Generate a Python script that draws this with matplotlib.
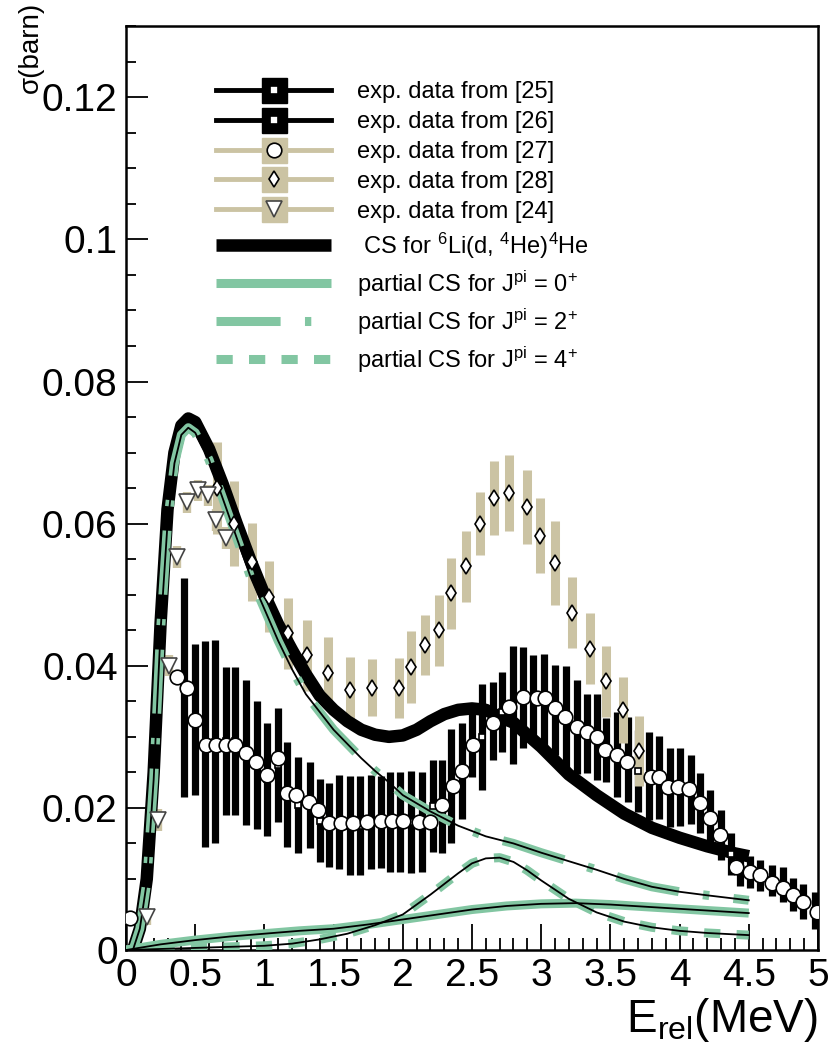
import numpy as np
import matplotlib
matplotlib.use('Agg')
import matplotlib.pyplot as plt
from matplotlib.lines import Line2D

plt.rcParams['font.family'] = ['Liberation Sans', 'DejaVu Sans']
plt.rcParams['mathtext.default'] = 'regular'

tan = '#cbc3a3'
green = '#82c6a2'

# ---- theory curves ----
x_cs = [0.05, 0.1, 0.15, 0.2, 0.25, 0.3, 0.35, 0.4, 0.45, 0.5, 0.6, 0.7, 0.8, 0.9, 1.0, 1.1, 1.2,
        1.3, 1.4, 1.5, 1.6, 1.7, 1.8, 1.9, 2.0, 2.1, 2.2, 2.3, 2.4, 2.5, 2.6, 2.7, 2.8, 2.9, 3.0,
        3.2, 3.4, 3.6, 3.8, 4.0, 4.2, 4.4, 4.5]
cs_tot = [0.0, 0.003, 0.010, 0.025, 0.046, 0.062, 0.070, 0.0738, 0.0748, 0.0743, 0.0705, 0.0655,
          0.060, 0.0548, 0.050, 0.0458, 0.0422, 0.0388, 0.0358, 0.0338, 0.0322, 0.031, 0.0303,
          0.030, 0.0302, 0.031, 0.0322, 0.0332, 0.0338, 0.034, 0.0338, 0.0328, 0.032, 0.0303,
          0.0286, 0.0247, 0.0218, 0.0192, 0.0172, 0.0158, 0.0146, 0.0136, 0.0132]

x_j2 = [0.05, 0.1, 0.15, 0.2, 0.25, 0.3, 0.35, 0.4, 0.45, 0.5, 0.6, 0.7, 0.8, 0.9, 1.0, 1.1, 1.2,
        1.3, 1.4, 1.5, 1.6, 1.7, 1.8, 1.9, 2.0, 2.2, 2.4, 2.6, 2.8, 3.0, 3.2, 3.4, 3.6, 3.8, 4.0,
        4.2, 4.5]
cs_j2 = [0.0, 0.003, 0.0095, 0.024, 0.045, 0.060, 0.0685, 0.0725, 0.0735, 0.0728, 0.069, 0.0635,
         0.058, 0.0525, 0.048, 0.0435, 0.0395, 0.036, 0.0335, 0.031, 0.029, 0.027, 0.0252,
         0.0236, 0.0218, 0.0195, 0.0175, 0.016, 0.015, 0.0137, 0.0125, 0.0113, 0.0100, 0.0089,
         0.0082, 0.0077, 0.0070]

x_j4 = [0.0, 0.5, 1.0, 1.2, 1.4, 1.6, 1.8, 2.0, 2.2, 2.4, 2.5, 2.6, 2.7, 2.8, 2.9, 3.0, 3.2, 3.4,
        3.6, 3.8, 4.0, 4.2, 4.5]
cs_j4 = [0.0, 0.0003, 0.0006, 0.0009, 0.0015, 0.0023, 0.0035, 0.005, 0.0078, 0.0108, 0.0122,
         0.0129, 0.0130, 0.0124, 0.0112, 0.0098, 0.0072, 0.0053, 0.004, 0.0032, 0.0027, 0.0024,
         0.0021]

x_j0 = [0.0, 0.25, 0.5, 0.75, 1.0, 1.25, 1.5, 1.75, 2.0, 2.25, 2.5, 2.75, 3.0, 3.25, 3.5, 3.75,
        4.0, 4.25, 4.5]
cs_j0 = [0.0, 0.0008, 0.0014, 0.0019, 0.0023, 0.0027, 0.003, 0.0036, 0.0043, 0.005, 0.0057,
         0.0062, 0.0065, 0.0066, 0.0064, 0.0061, 0.0058, 0.0055, 0.0052]

# ---- experimental data ----
x25 = [0.42, 0.50, 0.57, 0.645, 0.725, 0.79, 0.87, 0.95, 1.02, 1.10, 1.16, 1.24, 1.33, 1.40,
       1.47, 1.54, 1.62, 1.69, 1.77, 1.84, 1.91, 1.98, 2.06, 2.14, 2.22]
y25 = [0.0369, 0.0324, 0.029, 0.0293, 0.0294, 0.0294, 0.0278, 0.026, 0.024, 0.026, 0.0219,
       0.0204, 0.0204, 0.0182, 0.0176, 0.018, 0.0175, 0.0175, 0.018, 0.018, 0.018, 0.018,
       0.018, 0.018, 0.0203]
e25 = [0.0154, 0.0106, 0.0145, 0.0143, 0.0104, 0.0104, 0.0102, 0.009, 0.008, 0.008, 0.0074,
       0.0068, 0.006, 0.0058, 0.0059, 0.0066, 0.007, 0.007, 0.0066, 0.0065, 0.007, 0.007,
       0.0072, 0.007, 0.0065]

x26 = [2.28, 2.35, 2.43, 2.50, 2.57, 2.65, 2.72, 2.80, 2.87, 2.94, 3.02, 3.10, 3.18, 3.26, 3.33,
       3.40, 3.47, 3.55, 3.63, 3.70, 3.78, 3.85, 3.93, 4.00, 4.08, 4.15, 4.22, 4.30, 4.37, 4.44,
       4.51, 4.58, 4.67, 4.75, 4.82, 4.89, 4.98]
y26 = [0.0202, 0.0231, 0.0252, 0.0288, 0.030, 0.0322, 0.0335, 0.0345, 0.0356, 0.0355, 0.0352,
       0.0338, 0.0328, 0.0314, 0.0305, 0.030, 0.0281, 0.0275, 0.0268, 0.0252, 0.0245, 0.0243,
       0.0229, 0.0229, 0.0226, 0.0207, 0.0188, 0.0162, 0.0135, 0.0115, 0.011, 0.0105, 0.0098,
       0.0092, 0.0078, 0.0068, 0.0055]
e26 = [0.0066, 0.008, 0.0068, 0.0045, 0.0075, 0.0055, 0.0056, 0.0083, 0.0071, 0.006, 0.0065,
       0.0063, 0.0072, 0.0066, 0.0056, 0.0061, 0.0045, 0.006, 0.006, 0.0058, 0.0062, 0.0058,
       0.0056, 0.0055, 0.0048, 0.0042, 0.0037, 0.0035, 0.003, 0.0025, 0.0022, 0.0022, 0.0022,
       0.0025, 0.0023, 0.0025, 0.0026]

x27 = [0.03, 0.37, 0.44, 0.50, 0.58, 0.65, 0.72, 0.79, 0.87, 0.94, 1.02, 1.10, 1.16, 1.23, 1.32,
       1.39, 1.47, 1.55, 1.64, 1.74, 1.84, 1.92, 2.00, 2.12, 2.20, 2.28, 2.36, 2.43, 2.51, 2.65,
       2.77, 2.87, 2.97, 3.03, 3.10, 3.17, 3.26, 3.33, 3.40, 3.46, 3.55, 3.62, 3.79, 3.85, 3.92,
       3.99, 4.07, 4.15, 4.22, 4.29, 4.41, 4.51, 4.58, 4.67, 4.75, 4.82, 4.89, 4.99]
y27 = [0.0045, 0.0384, 0.0369, 0.0324, 0.0289, 0.0289, 0.0289, 0.0289, 0.0277, 0.0265, 0.0246,
       0.027, 0.0221, 0.0218, 0.0208, 0.0197, 0.0179, 0.0179, 0.0179, 0.018, 0.0182, 0.0182,
       0.0182, 0.018, 0.018, 0.0204, 0.0231, 0.0252, 0.0288, 0.0319, 0.0342, 0.0356, 0.0354,
       0.0354, 0.034, 0.0328, 0.0314, 0.0307, 0.030, 0.0281, 0.0274, 0.0265, 0.0243, 0.0243,
       0.0229, 0.0229, 0.0227, 0.0207, 0.0186, 0.0162, 0.0117, 0.011, 0.0105, 0.0094, 0.0087,
       0.0077, 0.0068, 0.0053]
e27 = [0.0008] * len(x27)

x28 = [0.66, 0.78, 0.91, 1.03, 1.17, 1.31, 1.46, 1.62, 1.78, 1.97, 2.06, 2.16, 2.26, 2.35, 2.46,
       2.56, 2.66, 2.77, 2.90, 2.99, 3.10, 3.22, 3.35, 3.47, 3.59, 3.71]
y28 = [0.065, 0.060, 0.0546, 0.0497, 0.0446, 0.0415, 0.039, 0.0366, 0.0369, 0.0369, 0.0398,
       0.0429, 0.045, 0.0502, 0.054, 0.060, 0.0636, 0.0643, 0.0623, 0.0583, 0.0545, 0.0475,
       0.0424, 0.0378, 0.0338, 0.028]
e28 = [0.0065, 0.006, 0.0055, 0.005, 0.005, 0.005, 0.005, 0.0046, 0.004, 0.0042, 0.0051,
       0.0042, 0.005, 0.005, 0.005, 0.0044, 0.0052, 0.0053, 0.0052, 0.0053, 0.0059, 0.005,
       0.005, 0.005, 0.0046, 0.0049]

x24 = [0.15, 0.23, 0.31, 0.37, 0.44, 0.52, 0.59, 0.65, 0.72]
y24 = [0.0047, 0.0183, 0.040, 0.0553, 0.063, 0.0647, 0.064, 0.0605, 0.058]
e24 = [0.0012, 0.0015, 0.0015, 0.0015, 0.0015, 0.0015, 0.0015, 0.0015, 0.0015]

fig = plt.figure(figsize=(8.3, 10.5), dpi=100)
ax = fig.add_axes([0.1518, 0.0952, 0.8337, 0.8798])


def errset(x, y, e, col, marker, ms, bar_w, mfc='white', mec='black'):
    c = ax.errorbar(x, y, yerr=e, fmt=marker, ms=ms, mfc=mfc, mec=mec, mew=1.2,
                    ecolor=col, elinewidth=bar_w, capsize=0)
    c[0].set_zorder(7)
    for b in c[2]:
        b.set_zorder(2)
    return c


errset(x25, y25, e25, 'black', 's', 4, 5.2)
errset(x26, y26, e26, 'black', 's', 4, 5.2)
errset(x27, y27, e27, tan, 'o', 10.5, 6)
errset(x28, y28, e28, tan, 'd', 8, 6.5)
errset(x24, y24, e24, tan, 'v', 11, 6, mec='#444444')

l_tot, = ax.plot(x_cs, cs_tot, color='black', lw=9, zorder=3, solid_capstyle='butt')
l0, = ax.plot(x_j0, cs_j0, color=green, lw=6.5, zorder=4, solid_capstyle='butt')
l2, = ax.plot(x_j2, cs_j2, color=green, lw=6.5, zorder=4, dashes=(7.1, 2.7, 0.7, 2.7))
l4, = ax.plot(x_j4, cs_j4, color=green, lw=6.5, zorder=4, dashes=(1.8, 1.8))
for xx, yy in [(x_j0, cs_j0), (x_j2, cs_j2), (x_j4, cs_j4)]:
    ax.plot(xx, yy, color='black', lw=1.3, zorder=5)

ax.set_xlim(0, 5)
ax.set_ylim(0, 0.13)
ax.set_xticks(np.arange(0, 5.01, 0.5))
ax.set_xticklabels(['0', '0.5', '1', '1.5', '2', '2.5', '3', '3.5', '4', '4.5', '5'])
ax.set_xticks(np.arange(0, 5.01, 0.1), minor=True)
ax.set_yticks(np.arange(0, 0.121, 0.02))
ax.set_yticklabels(['0', '0.02', '0.04', '0.06', '0.08', '0.1', '0.12'])
ax.set_yticks(np.arange(0, 0.131, 0.005), minor=True)
ax.tick_params(axis='x', which='major', direction='in', length=19, width=1.3, labelsize=28, pad=6)
ax.tick_params(axis='x', which='minor', direction='in', length=9, width=1.3)
ax.tick_params(axis='y', which='major', direction='in', length=16, width=1.3, labelsize=28, pad=6)
ax.tick_params(axis='y', which='minor', direction='in', length=7, width=1.3)
for s in ax.spines.values():
    s.set_linewidth(1.8)

ax.set_ylabel('σ(barn)', fontsize=20, ha='right')
ax.yaxis.set_label_coords(-0.118, 1.027)
ax.set_xlabel('E$_{rel}$(MeV)', fontsize=33, loc='right', labelpad=1)


# legend proxies: horizontal line + wide error block + marker
def exp_handle(col, marker, ms, mec='black'):
    line = Line2D([], [], color=col, lw=3.5)
    block = Line2D([], [], ls='none', marker='s', ms=18, mfc=col, mec=col)
    mark = Line2D([], [], ls='none', marker=marker, ms=ms, mfc='white', mec=mec, mew=1.2)
    return (line, block, mark)


handles = [exp_handle('black', 's', 6), exp_handle('black', 's', 6),
           exp_handle(tan, 'o', 10.5), exp_handle(tan, 'd', 8),
           exp_handle(tan, 'v', 11, mec='#444444'), l_tot, l0, l2, l4]
labels = ['exp. data from [25]', 'exp. data from [26]', 'exp. data from [27]',
          'exp. data from [28]', 'exp. data from [24]',
          ' CS for $^{6}$Li(d, $^{4}$He)$^{4}$He',
          'partial CS for J$^{pi}$ = 0$^{+}$', 'partial CS for J$^{pi}$ = 2$^{+}$',
          'partial CS for J$^{pi}$ = 4$^{+}$']
fig.legend(handles, labels, loc='upper left', bbox_to_anchor=(0.26, 0.9225), frameon=False,
           fontsize=17, handlelength=4.9, handletextpad=1.1, labelspacing=0.33,
           borderpad=0, borderaxespad=0)

fig.savefig('out.png', dpi=100)
